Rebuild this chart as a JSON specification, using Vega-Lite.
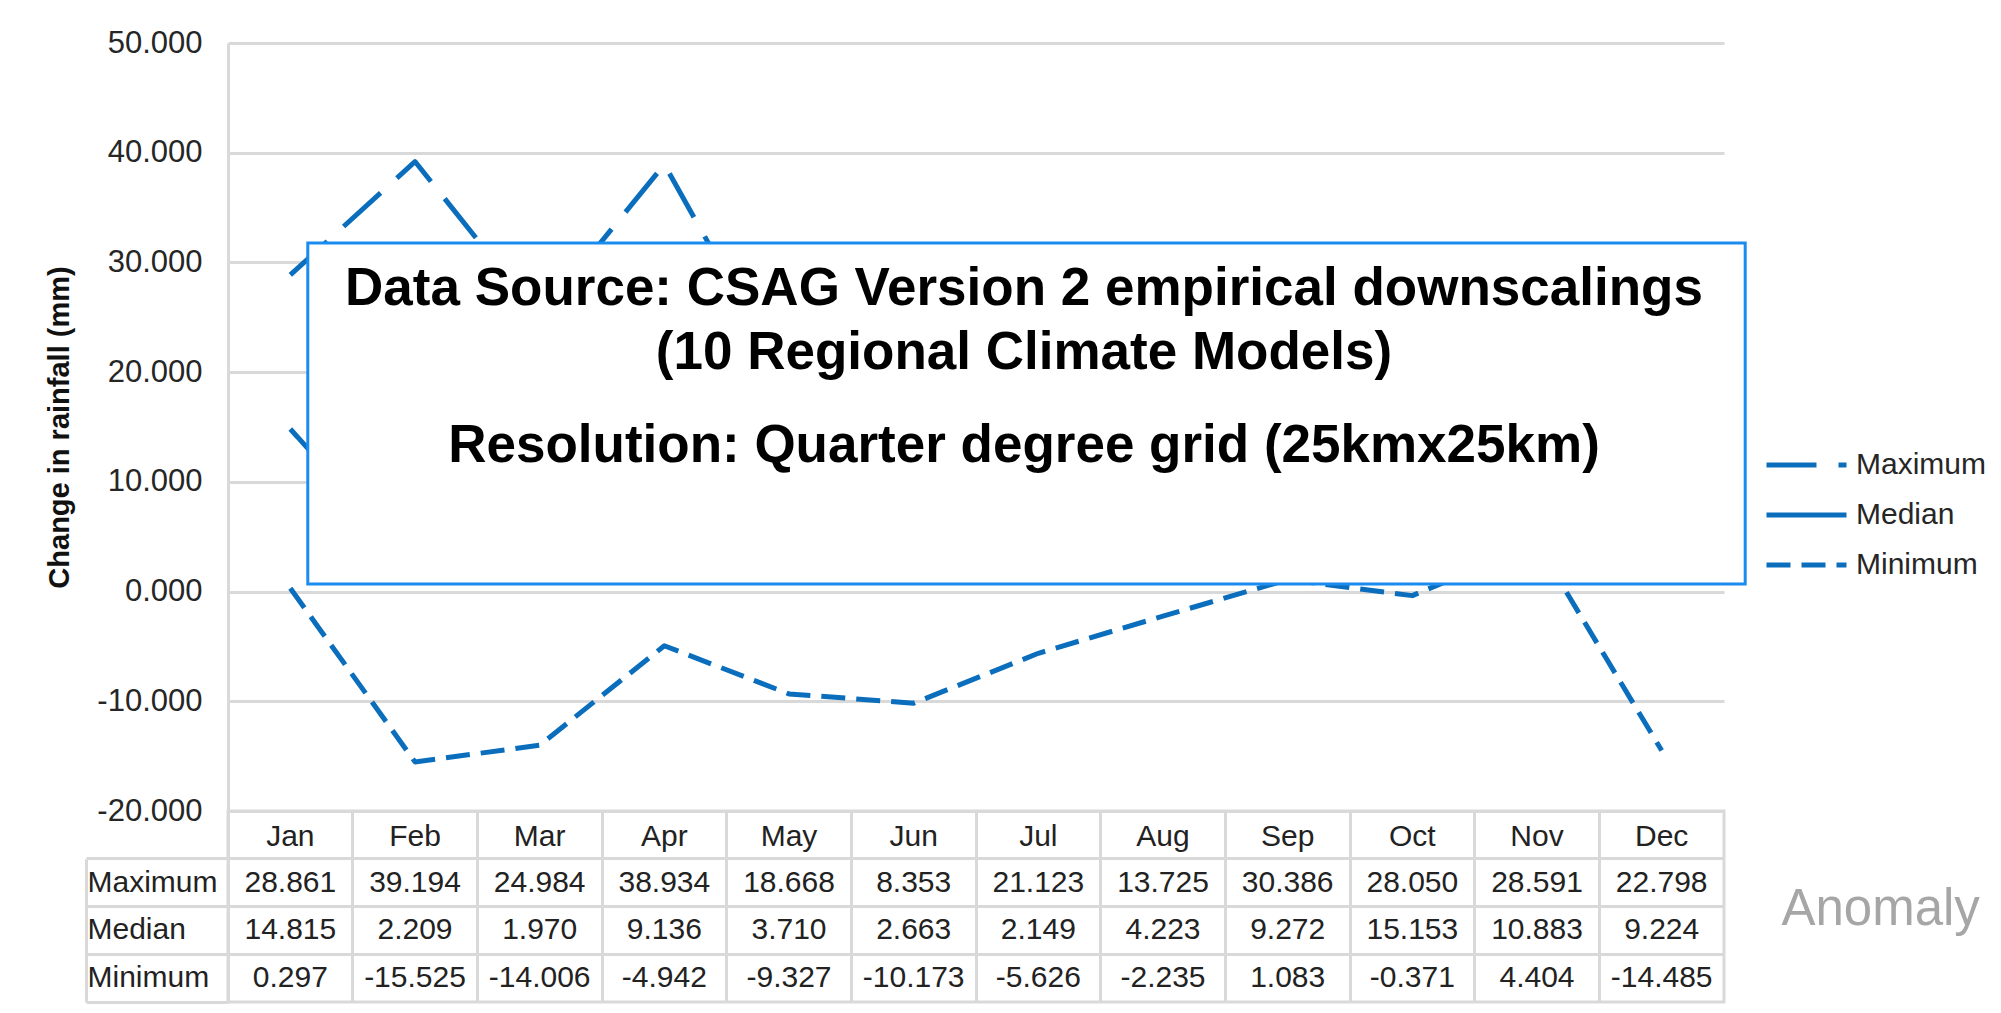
{
  "$schema": "https://vega.github.io/schema/vega-lite/v6.json",
  "background": "#ffffff",
  "padding": {"left": 45, "top": 27, "right": 5, "bottom": 5},
  "bounds": "flush",
  "spacing": 0,
  "config": {
    "font": "Liberation Sans",
    "text": {"font": "Liberation Sans"},
    "locale": {"number": {"decimal": ".", "thousands": ",", "grouping": [3], "currency": ["$", ""], "minus": "-"}}
  },
  "datasets": {
    "rain": [
      {"month": "Jan", "series": "Maximum", "value": 28.861},
      {"month": "Feb", "series": "Maximum", "value": 39.194},
      {"month": "Mar", "series": "Maximum", "value": 24.984},
      {"month": "Apr", "series": "Maximum", "value": 38.934},
      {"month": "May", "series": "Maximum", "value": 18.668},
      {"month": "Jun", "series": "Maximum", "value": 8.353},
      {"month": "Jul", "series": "Maximum", "value": 21.123},
      {"month": "Aug", "series": "Maximum", "value": 13.725},
      {"month": "Sep", "series": "Maximum", "value": 30.386},
      {"month": "Oct", "series": "Maximum", "value": 28.050},
      {"month": "Nov", "series": "Maximum", "value": 28.591},
      {"month": "Dec", "series": "Maximum", "value": 22.798},
      {"month": "Jan", "series": "Median", "value": 14.815},
      {"month": "Feb", "series": "Median", "value": 2.209},
      {"month": "Mar", "series": "Median", "value": 1.970},
      {"month": "Apr", "series": "Median", "value": 9.136},
      {"month": "May", "series": "Median", "value": 3.710},
      {"month": "Jun", "series": "Median", "value": 2.663},
      {"month": "Jul", "series": "Median", "value": 2.149},
      {"month": "Aug", "series": "Median", "value": 4.223},
      {"month": "Sep", "series": "Median", "value": 9.272},
      {"month": "Oct", "series": "Median", "value": 15.153},
      {"month": "Nov", "series": "Median", "value": 10.883},
      {"month": "Dec", "series": "Median", "value": 9.224},
      {"month": "Jan", "series": "Minimum", "value": 0.297},
      {"month": "Feb", "series": "Minimum", "value": -15.525},
      {"month": "Mar", "series": "Minimum", "value": -14.006},
      {"month": "Apr", "series": "Minimum", "value": -4.942},
      {"month": "May", "series": "Minimum", "value": -9.327},
      {"month": "Jun", "series": "Minimum", "value": -10.173},
      {"month": "Jul", "series": "Minimum", "value": -5.626},
      {"month": "Aug", "series": "Minimum", "value": -2.235},
      {"month": "Sep", "series": "Minimum", "value": 1.083},
      {"month": "Oct", "series": "Minimum", "value": -0.371},
      {"month": "Nov", "series": "Minimum", "value": 4.404},
      {"month": "Dec", "series": "Minimum", "value": -14.485}
    ]
  },
  "vconcat": [
    {
      "width": 1496,
      "height": 768,
      "view": {"stroke": null},
      "data": {"name": "rain"},
      "resolve": {"scale": {"x": "independent"}},
      "layer": [
        {
          "mark": {"type": "line", "strokeWidth": 5, "strokeJoin": "round"},
          "encoding": {
            "x": {"field": "month", "type": "ordinal", "scale": {"type": "band", "domain": ["Jan","Feb","Mar","Apr","May","Jun","Jul","Aug","Sep","Oct","Nov","Dec"], "paddingInner": 0, "paddingOuter": 0}, "axis": null},
            "y": {"field": "value", "type": "quantitative", "scale": {"domain": [-20, 50], "nice": false, "zero": false},
              "axis": {"values": [-20,-10,0,10,20,30,40,50], "format": ".3f", "grid": true, "gridColor": "#d9d9d9", "gridWidth": 3, "ticks": false, "domain": true, "domainColor": "#d9d9d9", "domainWidth": 3, "labelPadding": 26, "labelFontSize": 31, "labelColor": "#262626", "labelFont": "Liberation Sans", "title": "Change in rainfall (mm)", "titleFont": "Liberation Sans", "titleFontSize": 29, "titleFontWeight": "bold", "titleColor": "#111111", "titlePadding": 22}},
            "color": {"field": "series", "type": "nominal", "scale": {"domain": ["Maximum","Median","Minimum"], "range": ["#0a6ebd","#0a6ebd","#0a6ebd"]},
              "legend": {"title": null, "orient": "none", "legendX": 1536, "legendY": 397, "symbolType": "stroke", "symbolSize": 6400, "symbolStrokeWidth": 5, "labelFontSize": 30, "labelColor": "#262626", "labelFont": "Liberation Sans", "labelOffset": 7, "rowPadding": 0, "clipHeight": 50}},
            "strokeDash": {"field": "series", "type": "nominal", "scale": {"domain": ["Maximum","Median","Minimum"], "range": [[50, 22], [1, 0], [24, 11]]},
              "legend": {"title": null, "orient": "none", "legendX": 1536, "legendY": 397, "symbolType": "stroke", "symbolSize": 6400, "symbolStrokeWidth": 5, "labelFontSize": 30, "labelColor": "#262626", "labelFont": "Liberation Sans", "labelOffset": 7, "rowPadding": 0, "clipHeight": 50}}
          }
        },
        {
          "data": {"values": [{}]},
          "layer": [
            {
              "mark": {"type": "rect", "fill": "#ffffff", "stroke": "#1a8cf0", "strokeWidth": 3},
              "encoding": {
                "x": {"datum": 0.64, "type": "quantitative", "scale": {"domain": [0, 12], "nice": false, "zero": false}, "axis": null},
                "x2": {"datum": 12.17},
                "y": {"datum": 31.77, "type": "quantitative"},
                "y2": {"datum": 0.69}
              }
            },
            {
              "mark": {"type": "text", "text": "Data Source: CSAG Version 2 empirical downscalings", "fontSize": 53, "fontWeight": "bold", "color": "#000000", "align": "center", "baseline": "middle"},
              "encoding": {"x": {"datum": 6.385, "type": "quantitative"}, "y": {"datum": 27.6, "type": "quantitative"}}
            },
            {
              "mark": {"type": "text", "text": "(10 Regional Climate Models)", "fontSize": 53, "fontWeight": "bold", "color": "#000000", "align": "center", "baseline": "middle"},
              "encoding": {"x": {"datum": 6.385, "type": "quantitative"}, "y": {"datum": 21.75, "type": "quantitative"}}
            },
            {
              "mark": {"type": "text", "text": "Resolution: Quarter degree grid (25kmx25km)", "fontSize": 53, "fontWeight": "bold", "color": "#000000", "align": "center", "baseline": "middle"},
              "encoding": {"x": {"datum": 6.385, "type": "quantitative"}, "y": {"datum": 13.3, "type": "quantitative"}}
            }
          ]
        }
      ]
    },
    {
      "width": 1496,
      "height": 191,
      "view": {"stroke": "#d9d9d9", "strokeWidth": 3},
      "data": {"name": "rain"},
      "title": {"text": "Anomaly", "orient": "right", "angle": 0, "align": "left", "baseline": "middle", "anchor": "middle", "offset": -141, "fontSize": 51, "fontWeight": "normal", "color": "#a6a6a6", "font": "Liberation Sans", "dy": 3},
      "resolve": {"scale": {"y": "independent"}, "axis": {"y": "independent"}},
      "layer": [
        {
          "transform": [{"filter": "datum.series === 'Maximum'"}],
          "mark": {"type": "text", "fontSize": 30, "color": "#222222", "dy": 2},
          "encoding": {
            "x": {"field": "month", "type": "ordinal", "scale": {"type": "band", "domain": ["Jan","Feb","Mar","Apr","May","Jun","Jul","Aug","Sep","Oct","Nov","Dec"], "paddingInner": 0, "paddingOuter": 0},
              "axis": {"grid": true, "bandPosition": 0, "gridColor": "#d9d9d9", "gridWidth": 3, "labels": false, "ticks": false, "domain": false, "title": null}},
            "y": {"datum": "hdr", "type": "nominal", "scale": {"type": "band", "domain": ["hdr","Maximum","Median","Minimum"], "paddingInner": 0, "paddingOuter": 0},
              "axis": {"orient": "left", "values": ["Maximum","Median","Minimum"], "bandPosition": 0, "grid": true, "gridColor": "#d9d9d9", "gridWidth": 3, "ticks": true, "tickSize": 142, "tickColor": "#d9d9d9", "tickWidth": 3, "domain": false, "labelAlign": "left", "labelBaseline": "middle", "labelPadding": -1, "labelFontSize": 30, "labelColor": "#222222", "labelFont": "Liberation Sans", "title": null}},
            "text": {"field": "month"}
          }
        },
        {
          "mark": {"type": "text", "fontSize": 30, "color": "#222222"},
          "encoding": {
            "x": {"field": "month", "type": "ordinal"},
            "y": {"field": "series", "type": "nominal", "scale": {"type": "band", "domain": ["Maximum","Median","Minimum"], "range": [47.75, 191], "paddingInner": 0, "paddingOuter": 0},
              "axis": {"orient": "left", "offset": 142, "values": ["Minimum"], "bandPosition": 1, "grid": false, "ticks": true, "tickSize": -142, "tickColor": "#d9d9d9", "tickWidth": 3, "domain": true, "domainColor": "#d9d9d9", "domainWidth": 3, "labels": false, "title": null}},
            "text": {"field": "value", "type": "quantitative", "format": ".3f"}
          }
        }
      ]
    }
  ]
}
